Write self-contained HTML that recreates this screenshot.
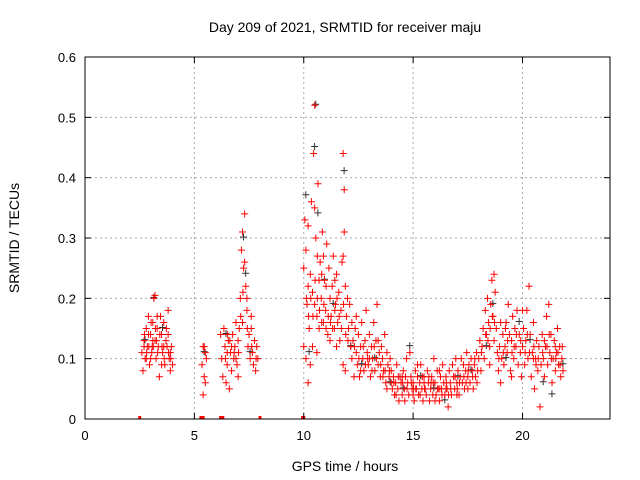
<!DOCTYPE html>
<html><head><meta charset="utf-8"><style>
html,body{margin:0;padding:0;background:#fff}
svg{display:block;font-family:"Liberation Sans",sans-serif}
</style></head><body>
<svg id="chart" width="640" height="480" xmlns="http://www.w3.org/2000/svg">
<rect width="640" height="480" fill="#fff"/>
<text x="345" y="32" text-anchor="middle" font-size="14">Day 209 of 2021, SRMTID for receiver maju</text>
<text x="345" y="471" text-anchor="middle" font-size="14">GPS time / hours</text>
<text transform="translate(19,238) rotate(-90)" text-anchor="middle" font-size="14">SRMTID / TECUs</text>
<g id="grid"></g><g id="marks"></g><g id="axes"></g>
</svg>
<script>
const xTicks=[0,5,10,15,20];
const yTicks=[0,0.1,0.2,0.3,0.4,0.5,0.6];
const yTickLabels=["0","0.1","0.2","0.3","0.4","0.5","0.6"];
const zeroHours=[2.5,5.3,5.35,5.4,6.2,6.3,8.0,9.95,10.0];
const blackPoints=[[2.7,.13],[3.1,.2],[3.5,.15],[5.4,.11],[6.4,.14],[7.2,.3],[7.3,.24],[7.5,.11],[10.05,.37],[10.2,.11],[10.45,.45],[10.5,.52],[10.6,.34],[10.9,.23],[11.3,.19],[11.8,.41],[12.1,.12],[12.6,.09],[13.2,.1],[13.9,.06],[14.5,.05],[14.8,.12],[15.3,.07],[15.9,.05],[16.4,.03],[17.0,.07],[17.6,.08],[18.3,.12],[18.6,.19],[19.2,.1],[19.8,.16],[20.3,.13],[20.9,.06],[21.3,.04],[21.8,.09]];
const redPoints=[
[2.6,.11],[2.65,.08],[2.7,.13],[2.75,.10],[2.8,.15],[2.85,.12],[2.9,.17],[2.95,.09],[3.0,.14],[3.05,.11],[3.1,.16],[3.15,.20],[3.2,.13],[3.25,.10],[3.3,.15],[3.35,.12],[3.4,.07],[3.45,.17],[3.5,.14],[3.55,.11],[3.6,.16],[3.65,.09],[3.7,.13],[3.75,.12],[3.8,.18],[3.85,.10],[3.9,.08],[3.95,.12],[4.0,.09],[3.2,.205],[2.7,.12],[2.9,.14],[3.0,.1],[3.1,.13],[3.3,.17],[3.5,.09],[3.6,.12],[3.8,.14],[3.9,.11],[2.8,.1],
[5.35,.09],[5.4,.12],[5.45,.07],[5.5,.11],[5.55,.1],[5.4,.04],[5.5,.06],[5.45,.12],
[6.2,.14],[6.25,.1],[6.3,.07],[6.35,.15],[6.4,.12],[6.45,.06],[6.5,.09],[6.55,.13],[6.6,.05],[6.65,.11],[6.7,.08],[6.75,.14],[6.8,.1],[6.85,.12],[6.9,.16],[6.95,.09],[7.0,.13],[7.05,.15],[7.1,.2],[7.15,.28],[7.2,.31],[7.25,.25],[7.3,.34],[7.35,.22],[7.4,.18],[7.45,.12],[7.5,.14],[7.55,.1],[7.6,.17],[7.65,.11],[7.7,.09],[7.75,.13],[7.8,.08],[7.85,.12],[7.9,.1],[6.5,.11],[6.7,.12],[6.9,.1],[7.2,.16],[7.3,.26],[7.4,.2],[7.0,.07],[7.6,.15],
[10.0,.12],[10.05,.33],[10.1,.28],[10.15,.19],[10.2,.32],[10.25,.15],[10.3,.24],[10.35,.36],[10.4,.21],[10.45,.44],[10.5,.52],[10.55,.3],[10.6,.17],[10.65,.39],[10.7,.15],[10.75,.26],[10.8,.2],[10.85,.31],[10.9,.16],[10.95,.23],[11.0,.18],[11.05,.29],[11.1,.14],[11.15,.25],[11.2,.2],[11.25,.17],[11.3,.22],[11.35,.27],[11.4,.15],[11.45,.19],[11.5,.24],[11.55,.16],[11.6,.21],[11.65,.13],[11.7,.18],[11.75,.26],[11.8,.44],[11.85,.38],[11.9,.22],[11.95,.17],[12.0,.2],[12.05,.15],[12.1,.19],[12.15,.12],[12.2,.16],[10.1,.1],[10.3,.09],[10.4,.12],[10.6,.11],[10.2,.22],[10.5,.19],[10.7,.23],[10.9,.27],[11.2,.13],[11.5,.12],[11.8,.09],[11.9,.08],[10.0,.25],[10.2,.06],[10.5,.35],[11.85,.31],[11.8,.27],
[12.2,.1],[12.25,.13],[12.3,.07],[12.35,.15],[12.4,.11],[12.45,.09],[12.5,.14],[12.55,.07],[12.6,.12],[12.65,.16],[12.7,.1],[12.75,.08],[12.8,.13],[12.85,.18],[12.9,.11],[12.95,.09],[13.0,.14],[13.05,.07],[13.1,.12],[13.15,.1],[13.2,.16],[13.25,.08],[13.3,.13],[13.35,.19],[13.4,.09],[13.45,.11],[13.5,.07],[13.55,.12],[13.6,.1],[13.65,.08],[13.7,.14],[13.75,.06],[13.8,.11],[13.85,.09],[13.9,.07],[13.95,.1],[14.0,.06],[12.4,.17],[12.6,.08],[13.0,.1],[13.4,.13],[13.8,.05],
[14.0,.08],[14.05,.05],[14.1,.07],[14.15,.04],[14.2,.06],[14.25,.09],[14.3,.05],[14.35,.03],[14.4,.07],[14.45,.06],[14.5,.04],[14.55,.08],[14.6,.05],[14.65,.07],[14.7,.1],[14.75,.06],[14.8,.04],[14.85,.11],[14.9,.07],[14.95,.05],[15.0,.06],[15.05,.03],[15.1,.08],[15.15,.05],[15.2,.07],[15.25,.04],[15.3,.06],[15.35,.09],[15.4,.05],[15.45,.03],[15.5,.07],[15.55,.05],[15.6,.04],[15.65,.08],[15.7,.06],[15.75,.03],[15.8,.05],[15.85,.07],[15.9,.04],[15.95,.1],[16.0,.06],[16.05,.04],[16.1,.08],[16.15,.05],[16.2,.03],[16.25,.07],[16.3,.05],[16.35,.09],[16.4,.06],[16.45,.04],[16.5,.07],[16.55,.05],[16.6,.02],[16.65,.08],[16.7,.06],[16.75,.04],[16.8,.09],[16.85,.07],[16.9,.05],[16.95,.1],[17.0,.06],[17.05,.08],[17.1,.04],[17.15,.07],[17.2,.1],[17.25,.06],[17.3,.09],[17.35,.05],[17.4,.08],[17.45,.11],[17.5,.07],[17.55,.09],[17.6,.06],[17.65,.1],[17.7,.08],[17.75,.05],[17.8,.09],[17.85,.07],[17.9,.11],[17.95,.08],[14.5,.07],[15.0,.04],[15.5,.06],[16.0,.03],[16.5,.05],[17.0,.04],[17.5,.05],[15.2,.09],[16.2,.08],
[18.0,.1],[18.05,.13],[18.1,.08],[18.15,.12],[18.2,.15],[18.25,.1],[18.3,.18],[18.35,.14],[18.4,.2],[18.45,.16],[18.5,.12],[18.55,.19],[18.6,.23],[18.65,.17],[18.7,.13],[18.75,.21],[18.8,.15],[18.85,.11],[18.9,.08],[18.95,.12],[19.0,.06],[19.05,.1],[19.1,.14],[19.15,.09],[19.2,.12],[19.25,.16],[19.3,.11],[19.35,.19],[19.4,.14],[19.45,.08],[19.5,.13],[19.55,.17],[19.6,.1],[19.65,.15],[19.7,.12],[19.75,.18],[19.8,.09],[19.85,.14],[19.9,.11],[19.95,.07],[20.0,.12],[20.05,.15],[20.1,.09],[20.15,.13],[20.2,.18],[20.25,.1],[20.3,.22],[20.35,.14],[20.4,.07],[20.45,.11],[20.5,.16],[20.55,.05],[20.6,.1],[20.65,.13],[20.7,.08],[20.75,.12],[20.8,.02],[20.85,.09],[20.9,.14],[20.95,.1],[21.0,.07],[21.05,.12],[21.1,.17],[21.15,.09],[21.2,.19],[21.25,.11],[21.3,.14],[21.35,.06],[21.4,.1],[21.45,.13],[21.5,.08],[21.55,.11],[21.6,.15],[21.65,.09],[21.7,.12],[21.75,.07],[21.8,.1],[21.85,.08],[18.5,.09],[19.0,.16],[19.5,.07],[20.0,.18],[20.5,.1],[21.0,.13],[21.5,.12],[18.7,.24]
];
const extraRedPoints=[
[2.72,.14],[2.82,.11],[2.92,.12],[3.02,.16],[3.12,.12],[3.22,.15],[3.32,.11],[3.42,.14],[3.52,.12],[3.62,.1],[3.72,.15],[3.82,.11],[3.92,.1],[3.27,.13],[3.07,.12],
[6.42,.1],[6.62,.13],[6.82,.11],[7.02,.11],[7.22,.21],[7.42,.15],[7.62,.12],[7.82,.1],[6.52,.14],[7.12,.17],
[10.12,.2],[10.22,.17],[10.32,.2],[10.42,.17],[10.52,.23],[10.62,.2],[10.72,.18],[10.82,.16],[10.92,.19],[11.02,.15],[11.12,.17],[11.22,.16],[11.32,.15],[11.42,.18],[11.52,.2],[11.62,.17],[11.72,.15],[11.82,.19],[11.92,.14],[12.02,.13],[10.62,.27],[10.82,.24],[11.02,.22],[11.42,.23],
[12.32,.12],[12.52,.1],[12.72,.12],[12.92,.1],[13.12,.08],[13.32,.1],[13.52,.09],[13.72,.08],[13.92,.08],[12.82,.09],[13.22,.12],[13.62,.07],
[14.12,.06],[14.32,.07],[14.52,.06],[14.72,.05],[14.92,.06],[15.12,.05],[15.32,.04],[15.52,.05],[15.72,.07],[15.92,.06],[16.12,.05],[16.32,.04],[16.52,.06],[16.72,.05],[16.92,.07],[17.12,.06],[17.32,.07],[17.52,.08],[17.72,.07],[17.92,.06],[14.22,.04],[14.62,.03],[15.02,.05],[15.42,.07],[15.82,.06],[16.22,.05],[16.62,.04],[17.02,.05],[17.42,.06],[17.82,.1],
[18.12,.11],[18.32,.14],[18.52,.15],[18.72,.16],[18.92,.1],[19.12,.11],[19.32,.13],[19.52,.11],[19.72,.14],[19.92,.13],[20.12,.11],[20.32,.11],[20.52,.12],[20.72,.1],[20.92,.11],[21.12,.12],[21.32,.1],[21.52,.1],[21.72,.09],[18.42,.13],[18.62,.17],[19.22,.15],[19.62,.12],[20.22,.14],[20.62,.09],[21.22,.14],[21.62,.11],[21.82,.12]
];
const NS="http://www.w3.org/2000/svg";
const L=85,R=610,T=57,B=419,XMAX=24,YMAX=0.6;
function xs(v){return L+(R-L)*v/XMAX;}
function ys(v){return B-(B-T)*v/YMAX;}
function mk(tag,attrs,parent){const e=document.createElementNS(NS,tag);for(const k in attrs)e.setAttribute(k,attrs[k]);parent.appendChild(e);return e;}
const grid=document.getElementById('grid'),axes=document.getElementById('axes'),marks=document.getElementById('marks');
xTicks.forEach(t=>{
  const x=xs(t);
  if(t>0){const g=mk('line',{x1:x,x2:x,y1:T,y2:B,stroke:'#aaa','stroke-dasharray':'2,3'},grid);
  
  }
  mk('line',{x1:x,x2:x,y1:B,y2:B-6,stroke:'#000'},axes);
  mk('line',{x1:x,x2:x,y1:T,y2:T+6,stroke:'#000'},axes);
  const tx=mk('text',{x:x,y:B+21,'text-anchor':'middle','font-size':13},axes);tx.textContent=t;
  
  
});
yTicks.forEach((t,i)=>{
  const y=ys(t);
  if(t>0&&t<YMAX){const g=mk('line',{x1:L,x2:R,y1:y,y2:y,stroke:'#aaa','stroke-dasharray':'2,3'},grid);
  
  }
  mk('line',{x1:L,x2:L+6,y1:y,y2:y,stroke:'#000'},axes);
  mk('line',{x1:R,x2:R-6,y1:y,y2:y,stroke:'#000'},axes);
  const tx=mk('text',{x:L-9,y:y+5,'text-anchor':'end','font-size':13},axes);tx.textContent=yTickLabels[i];
  
  
});
const frame=mk('rect',{x:L,y:T,width:R-L,height:B-T,fill:'none',stroke:'#000'},axes);


function plus(x,y,color,name){
  const g=mk('path',{d:`M${x-3.5},${y}h7M${x},${y-3.5}v7`,stroke:color,'stroke-width':1,fill:'none'},marks);
  
  
}
blackPoints.forEach(p=>plus(xs(p[0])+1,ys(p[1])-1,'#333','black-point'));
redPoints.forEach(p=>plus(xs(p[0]),ys(p[1]),'#f00','red-point'));
extraRedPoints.forEach(p=>plus(xs(p[0]),ys(p[1]),'#f00','red-point'));
zeroHours.forEach(h=>{
  const r=mk('rect',{x:xs(h)-1.5,y:B-3,width:3,height:3,fill:'#f00'},marks);
  
  
});
</script>
</body></html>
